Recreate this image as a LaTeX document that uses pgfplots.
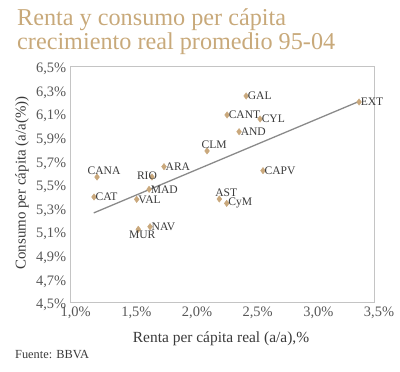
\documentclass[border=0pt]{standalone}
\usepackage{pgfplots}
\usepackage{pgfplotstable}
\pgfplotsset{compat=1.18}
\usepackage{fontspec}
\setmainfont{Liberation Serif}
\definecolor{tan}{HTML}{C8A97A}
\definecolor{mk}{HTML}{C9A87C}
\definecolor{boxc}{HTML}{C4C4C4}
\definecolor{trend}{HTML}{8A8A8A}
\definecolor{txt}{HTML}{3A3A3A}
\pgfplotstableread{
x y lab
1.192 5.390 CAT
1.769 5.647 ARA
1.646 5.455 MAD
1.544 5.370 VAL
1.654 5.138 NAV
2.446 6.246 GAL
2.289 6.085 CANT
2.561 6.051 CYL
2.388 5.943 AND
2.585 5.613 CAPV
2.286 5.336 CyM
3.377 6.195 EXT
}\rightlab
\pgfplotstableread{
x y lab
1.217 5.559 CANA
2.124 5.780 CLM
2.225 5.373 AST
}\abovelab
\pgfplotstableread{
x y lab
1.670 5.559 RIO
}\riolab
\pgfplotstableread{
x y lab
1.557 5.116 MUR
}\belowlab
\begin{document}
\begin{tikzpicture}[x=1bp,y=1bp]
\path (0,0) rectangle (400,372);
\node[anchor=base west, text=tan, font=\fontsize{24.3}{27}\selectfont, inner sep=0] at (17,347) {Renta y consumo per cápita};
\node[anchor=base west, text=tan, font=\fontsize{24.3}{27}\selectfont, inner sep=0] at (17,323) {crecimiento real promedio 95-04};
\begin{axis}[
  at={(70.7bp,70bp)}, anchor=south west,
  scale only axis, width=303.3bp, height=236bp,
  xmin=1, xmax=3.5, ymin=4.5, ymax=6.5,
  axis line style={draw=boxc, line width=0.8pt},
  major tick length=0pt,
  xtick={1,1.5,2,2.5,3,3.5},
  xticklabels={{1,0\%},{1,5\%},{2,0\%},{2,5\%},{3,0\%},{3,5\%}},
  ytick={4.5,4.7,4.9,5.1,5.3,5.5,5.7,5.9,6.1,6.3,6.5},
  yticklabels={{4,5\%},{4,7\%},{4,9\%},{5,1\%},{5,3\%},{5,5\%},{5,7\%},{5,9\%},{6,1\%},{6,3\%},{6,5\%}},
  tick label style={font=\fontsize{14.5}{16}\selectfont, text=txt!85},
  xticklabel style={xshift=5bp, yshift=-1bp},
  yticklabel style={yshift=-3bp, xshift=-1bp},
  /pgf/number format/assume math mode=true,
  clip=false,
  pts/.style={only marks, mark=diamond*, mark size=3.2bp, mark options={draw=mk, fill=mk},
    point meta=explicit symbolic, nodes near coords,
    every node near coord/.append style={font=\fontsize{11.6}{13}\selectfont, text=txt, inner sep=1.5bp}},
]
\addplot[trend, line width=1.3pt] coordinates {(1.19,5.255) (3.377,6.20)};
\addplot[pts, every node near coord/.append style={anchor=west}] table[x=x, y=y, meta=lab] {\rightlab};
\addplot[pts, every node near coord/.append style={anchor=south, xshift=7bp, yshift=1bp}] table[x=x, y=y, meta=lab] {\abovelab};
\addplot[pts, every node near coord/.append style={anchor=south, xshift=-5bp, yshift=-4bp}] table[x=x, y=y, meta=lab] {\riolab};
\addplot[pts, every node near coord/.append style={anchor=north, xshift=4bp}] table[x=x, y=y, meta=lab] {\belowlab};
\end{axis}
\node[rotate=90, anchor=center, text=txt, font=\fontsize{15}{17}\selectfont] at (22,189) {Consumo per cápita (a/a(\%))};
\node[anchor=base, text=txt, font=\fontsize{15.5}{17}\selectfont, inner sep=0] at (221,30) {Renta per cápita real (a/a),\%};
\node[anchor=base west, text=txt, font=\fontsize{12.4}{14}\selectfont, inner sep=0] at (15,14) {Fuente: BBVA};
\end{tikzpicture}
\end{document}
